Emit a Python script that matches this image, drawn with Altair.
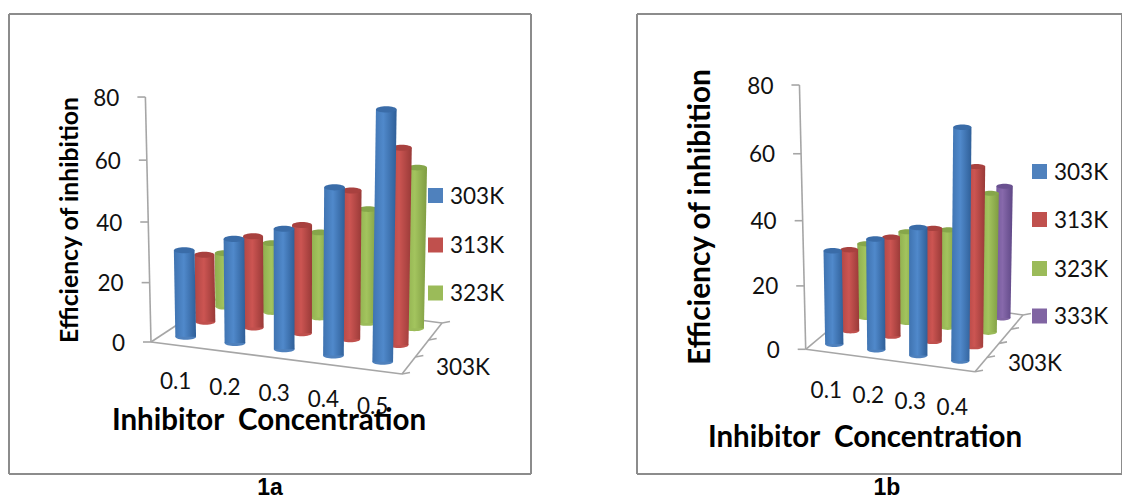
import altair as alt
import pandas as pd

FONT = "Lato"
GRAY = "#a6a6a6"

# Efficiency of inhibition readings per concentration and temperature
conc_a = ["0.1", "0.2", "0.3", "0.4", "0.5"]
a_303 = [29.4, 34.7, 39.4, 53.7, 78.3]
a_313 = [23.8, 31.8, 37.0, 49.7, 64.4]
a_323 = [19.9, 25.2, 30.5, 40.0, 55.2]

conc_b = ["0.1", "0.2", "0.3", "0.4"]
b_303 = [29.7, 34.6, 39.2, 69.1]
b_313 = [26.8, 32.1, 36.0, 55.8]
b_323 = [25.3, 30.6, 32.4, 45.2]
b_333 = [None, None, None, 44.6]

y_ticks = [0, 20, 40, 60, 80]

STYLE = {
    "303K": dict(base="#4f81bd", cap="#3a6ca8", stops=["#3f73b0", "#5089cb", "#2f5f98"]),
    "313K": dict(base="#c0504d", cap="#a8413f", stops=["#b04644", "#cc5552", "#993a38"]),
    "323K": dict(base="#9bbb59", cap="#86a64a", stops=["#8eae4e", "#a3c45e", "#7f9c42"]),
    "333K": dict(base="#8064a2", cap="#6a5190", stops=["#72589a", "#8769ab", "#5f4886"]),
}

# Oblique projection of each panel: floor corners of the bar grid, outline of the
# floor, vanishing point for the verticals and the pixels per efficiency unit.
PANELS = [
    dict(
        name="a", n=5, depth=2,
        bar_fl=(185.7, 336.7), bar_fr=(382.7, 361.7), bar_bl=(225.0, 306.7), bar_br=(414.3, 328.3),
        fl=(151, 342), fr=(402, 374), br=(442, 323), bl=(224, 294),
        vx=294, dist=6240, s0=2.9375, q=0.00053, bar_w=20.7,
        series={"303K": a_303, "313K": a_313, "323K": a_323},
        cats=conc_a, cat_off=(-10, 45), tick_off=26, depth_divs=3,
        depth_label=(463, 367),
        frame=(9, 14, 531, 474),
        title_x=(269, 421), ytitle=(71, 220), ytitle_size=24.8, xtitle_size=29.5,
        caption=(270, 488), caption_text="1a",
        leg_x=435.5, leg_y=[195.5, 245, 293], txt_x=450,
    ),
    dict(
        name="b", n=4, depth=3,
        bar_fl=(834.3, 344.3), bar_fr=(960.3, 361.0), bar_bl=(882.7, 304.0), bar_br=(1002.3, 318.0),
        fl=(805.7, 349.3), fr=(975, 371.7), br=(1023, 315), bl=(872, 294),
        vx=919, dist=4790, s0=3.126, q=0.00071, bar_w=18.3,
        series={"303K": b_303, "313K": b_313, "323K": b_323, "333K": b_333},
        cats=conc_b, cat_off=(-8, 46.5), tick_off=26, depth_divs=4,
        depth_label=(1035, 363),
        frame=(637, 14, 1122, 474),
        title_x=(865, 438), ytitle=(701, 217), ytitle_size=29.8, xtitle_size=29.5,
        caption=(887, 488), caption_text="1b",
        leg_x=1039.5, leg_y=[171.5, 219.5, 268.5, 316], txt_x=1054,
    ),
]
SLOPE = 0.0027


def lerp(p, q, t):
    return (p[0] + (q[0] - p[0]) * t, p[1] + (q[1] - p[1]) * t)


def floor_point(p, i, j):
    u = i / (p["n"] - 1)
    v = j / p["depth"]
    return lerp(lerp(p["bar_fl"], p["bar_fr"], u), lerp(p["bar_bl"], p["bar_br"], u), v)


def rise(p, base_y, value):
    scale = p["s0"] * (1 + (base_y - p["fl"][1]) * SLOPE)
    return scale * (value + p["q"] * value * value)


def lift(p, x, y, value):
    h = rise(p, y, value)
    return x + (x - p["vx"]) * h / p["dist"], y - h


bars, bottoms, tops = {}, {}, {}
segments, texts_small, bold, legend = [], [], [], []

for p in PANELS:
    left, top, right, bottom = p["frame"]
    segments_frame = [(left, top, right, top), (left, bottom, right, bottom),
                      (left, top, left, bottom), (right, top, right, bottom)]
    for s in segments_frame:
        segments.append(dict(x=s[0], y=s[1], x2=s[2], y2=s[3], kind="frame"))

    fl, fr, br, bl = p["fl"], p["fr"], p["br"], p["bl"]
    for a, b in [(fl, fr), (fr, br), (br, bl), (bl, fl)]:
        segments.append(dict(x=a[0], y=a[1], x2=b[0], y2=b[1], kind="axis"))
    for k in range(p["depth_divs"] + 1):
        a = lerp(fr, br, k / p["depth_divs"])
        segments.append(dict(x=a[0], y=a[1], x2=a[0] + 8, y2=a[1] - 1.5, kind="axis"))

    ax_top = lift(p, fl[0], fl[1], 80)
    segments.append(dict(x=fl[0], y=fl[1], x2=ax_top[0], y2=ax_top[1], kind="axis"))
    for t in y_ticks:
        tx, ty = lift(p, fl[0], fl[1], t)
        segments.append(dict(x=tx, y=ty, x2=tx - 8, y2=ty, kind="axis"))
        texts_small.append(dict(x=tx - p["tick_off"], y=ty + 1.5, text=str(t), align="right"))

    for i, c in enumerate(p["cats"]):
        fx, fy = floor_point(p, i, 0)
        texts_small.append(dict(x=fx + p["cat_off"][0], y=fy + p["cat_off"][1], text=c, align="center"))
    texts_small.append(dict(x=p["depth_label"][0], y=p["depth_label"][1] + 1, text="303K", align="center"))

    bold.append(dict(x=p["title_x"][0], y=p["title_x"][1], text="Inhibitor\u00a0\u00a0Concentration",
                     size=p["xtitle_size"], angle=0, font=FONT))
    bold.append(dict(x=p["ytitle"][0], y=p["ytitle"][1], text="Efficiency of inhibition",
                     size=p["ytitle_size"], angle=270, font=FONT))
    bold.append(dict(x=p["caption"][0], y=p["caption"][1], text=p["caption_text"],
                     size=23, angle=0, font="Liberation Sans"))

    for k, (name, values) in enumerate(p["series"].items()):
        w = p["bar_w"] * (1 - 0.035 * k)
        for i, v in enumerate(values):
            if v is None:
                continue
            fx, fy = floor_point(p, i, k)
            tx, ty = lift(p, fx, fy, v)
            key = f'{p["name"]}{name}{i}'
            rows = bars.setdefault(name, [])
            rows.append(dict(bar=key, py=ty, xl=tx - w / 2, xr=tx + w / 2))
            rows.append(dict(bar=key, py=fy, xl=fx - w / 2, xr=fx + w / 2))
            bottoms.setdefault(name, []).append(dict(x=fx, y=fy, w=w * w))
            tops.setdefault(name, []).append(dict(x=tx, y=ty, w=w * w))
        legend.append(dict(x=p["leg_x"], y=p["leg_y"][k], name=name))
        texts_small.append(dict(x=p["txt_x"], y=p["leg_y"][k] + 1, text=name, align="left"))

X = alt.X("x:Q", scale=alt.Scale(domain=[0, 1122], nice=False, zero=False), axis=None)
Y = alt.Y("y:Q", scale=alt.Scale(domain=[501, 0], nice=False, zero=False), axis=None)
ELLIPSE = "M-1,0A1,0.3,0,1,1,1,0A1,0.3,0,1,1,-1,0Z"


def rule_layer(kind, color, width):
    rows = [r for r in segments if r["kind"] == kind]
    return alt.Chart(pd.DataFrame(rows)).mark_rule(color=color, strokeWidth=width).encode(
        x=X, y=Y, x2="x2:Q", y2="y2:Q")


layers = [rule_layer("frame", "#8c8c8c", 2), rule_layer("axis", GRAY, 1.6)]

for name in ["333K", "323K", "313K", "303K"]:
    st = STYLE[name]
    gradient = dict(
        gradient="linear", x1=0, x2=1, y1=0, y2=0,
        stops=[dict(offset=0, color=st["stops"][0]), dict(offset=0.45, color=st["stops"][1]),
               dict(offset=1, color=st["stops"][2])],
    )
    layers.append(
        alt.Chart(pd.DataFrame(bottoms[name])).mark_point(shape=ELLIPSE, filled=True, opacity=1, color=st["base"]).encode(
            x=X, y=Y, size=alt.Size("w:Q", scale=None))
    )
    layers.append(
        alt.Chart(pd.DataFrame(bars[name])).mark_area(orient="horizontal", color=gradient).encode(
            y=alt.Y("py:Q", scale=alt.Scale(domain=[501, 0], nice=False, zero=False), axis=None),
            x=alt.X("xl:Q", scale=alt.Scale(domain=[0, 1122], nice=False, zero=False), axis=None),
            x2="xr:Q",
            detail="bar:N",
        )
    )
    layers.append(
        alt.Chart(pd.DataFrame(tops[name])).mark_point(shape=ELLIPSE, filled=True, opacity=1, color=st["cap"]).encode(
            x=X, y=Y, size=alt.Size("w:Q", scale=None))
    )

legend_df = pd.DataFrame(legend)
layers.append(
    alt.Chart(legend_df).mark_point(shape="square", filled=True, opacity=1, size=225).encode(
        x=X, y=Y,
        color=alt.Color("name:N", scale=alt.Scale(domain=list(STYLE), range=[STYLE[k]["base"] for k in STYLE]), legend=None),
    )
)

for align in ["left", "center", "right"]:
    rows = [r for r in texts_small if r["align"] == align]
    layers.append(
        alt.Chart(pd.DataFrame(rows)).mark_text(font=FONT, fontSize=22.5, align=align, baseline="middle", color="#111111").encode(
            x=X, y=Y, text="text:N")
    )

for row in bold:
    layers.append(
        alt.Chart(pd.DataFrame([row])).mark_text(
            font=row["font"], fontWeight="bold", fontSize=row["size"], angle=row["angle"],
            align="center", baseline="middle", color="#000000",
        ).encode(x=X, y=Y, text="text:N")
    )

chart = alt.layer(*layers).properties(
    width=1122, height=501, padding=0, autosize=alt.AutoSizeParams(type="none"), background="white"
).configure_view(stroke=None).resolve_scale(color="independent")

chart.save("out.html", embed_options={"renderer": "svg", "actions": False})
